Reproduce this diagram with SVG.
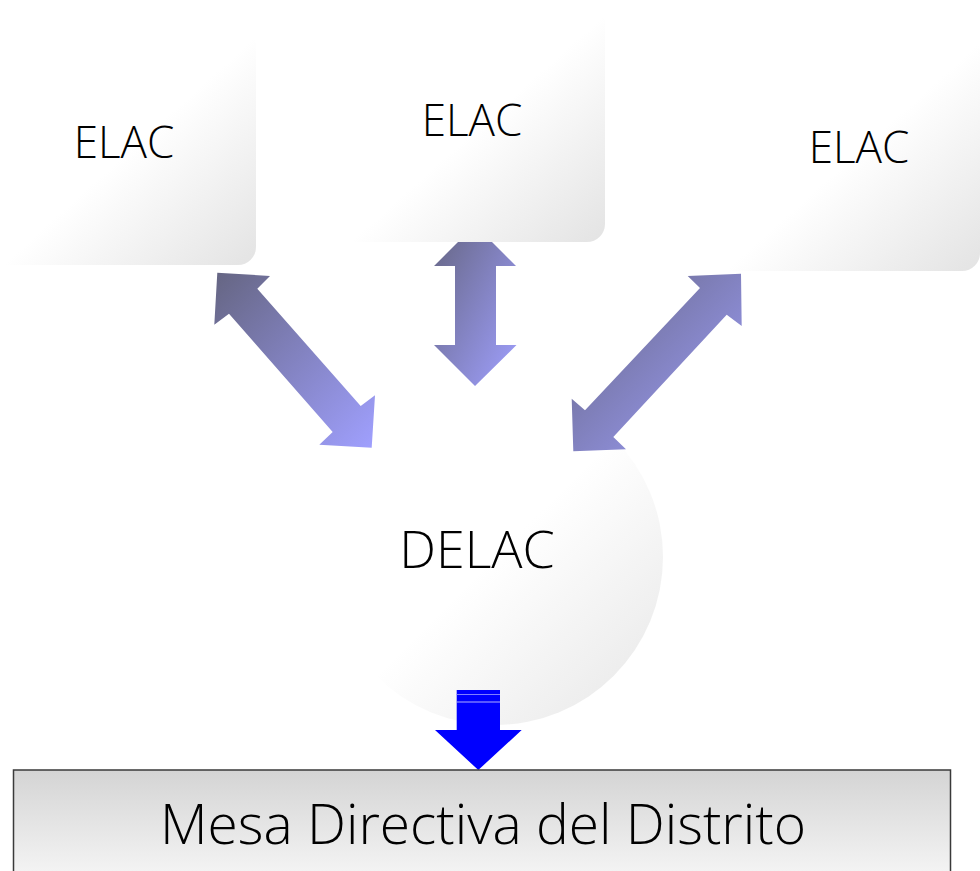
<svg xmlns="http://www.w3.org/2000/svg" width="980" height="871" viewBox="0 0 980 871">
<defs>
<linearGradient id="gBox" x1="0" y1="0" x2="1" y2="1">
<stop offset="0" stop-color="#ffffff"/>
<stop offset="0.52" stop-color="#ffffff"/>
<stop offset="1" stop-color="#e3e3e3"/>
</linearGradient>
<linearGradient id="gCirc" x1="0" y1="0" x2="1" y2="1">
<stop offset="0" stop-color="#ffffff"/>
<stop offset="0.5" stop-color="#ffffff"/>
<stop offset="1" stop-color="#e6e6e6"/>
</linearGradient>
<linearGradient id="gArrow" x1="0" y1="0" x2="1" y2="1">
<stop offset="0" stop-color="#656582"/>
<stop offset="1" stop-color="#a0a0ff"/>
</linearGradient>
<linearGradient id="gMesa" x1="0" y1="0" x2="0" y2="1">
<stop offset="0" stop-color="#d4d4d4"/>
<stop offset="1" stop-color="#ffffff"/>
</linearGradient>
</defs>
<style>
.lbl{font-family:"Open Sans","Noto Sans","DejaVu Sans",sans-serif;font-weight:300;fill:#000;text-anchor:middle}
.elac{font-size:44px}
.arrow{fill:url(#gArrow)}
.box{fill:url(#gBox)}
</style>
<rect width="980" height="871" fill="#ffffff"/>

<g id="delac">
<circle cx="495" cy="557" r="168" fill="url(#gCirc)"/>
<text class="lbl" x="477" y="568" font-size="52">DELAC</text>
</g>

<g id="connectors">
<polygon class="arrow" points="217.3,272.7 270,276 257.3,288.7 360.7,406 375,395.3 371.7,447.7 319.3,444.7 332.7,432 229,313.7 214.3,324.7"/>
<polygon class="arrow" points="741,273.7 741.7,326 726.7,314.7 613.3,437 626,449.3 573.3,451.3 571.7,398.7 585,410.3 700,288 687.7,276"/>
<polygon class="arrow" points="475,225 516,266 496,266 496,345 516.5,345 475,386 434,345 455,345 455,266 434,266"/>
<g id="down-arrow">
<polygon points="456.7,690 500,690 500,730 521.7,730 478.3,770 435,730 456.7,730" fill="#0000ff"/>
<line x1="456.7" y1="694.5" x2="500" y2="694.5" stroke="#8080ff" stroke-width="1"/>
<line x1="456.7" y1="702" x2="500" y2="702" stroke="#b0b0ff" stroke-width="1"/>
</g>
</g>

<g id="elac1">
<rect class="box" x="-8" y="27" width="264" height="238" rx="18"/>
<text class="lbl elac" x="124" y="158">ELAC</text>
</g>
<g id="elac2">
<rect class="box" x="340" y="5" width="265" height="237" rx="18"/>
<text class="lbl elac" x="472" y="136">ELAC</text>
</g>
<g id="elac3">
<rect class="box" x="715" y="33" width="265" height="238" rx="18"/>
<text class="lbl elac" x="859" y="163">ELAC</text>
</g>

<g id="mesa">
<rect x="13.5" y="770" width="937" height="140" fill="url(#gMesa)" stroke="#3a3a3a" stroke-width="1.5"/>
<text class="lbl" x="483" y="844" font-size="56" textLength="646" lengthAdjust="spacingAndGlyphs">Mesa Directiva del Distrito</text>
</g>
</svg>
